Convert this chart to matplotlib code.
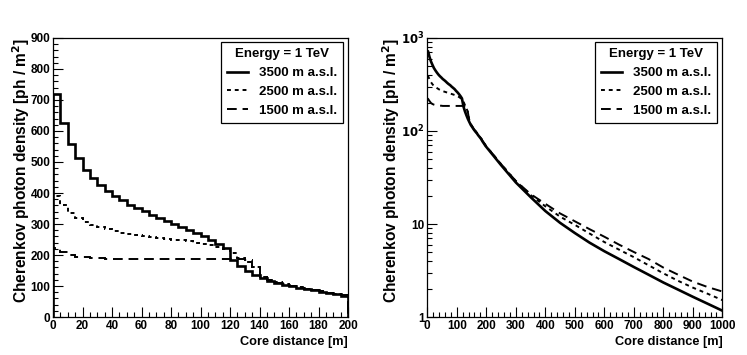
import numpy as np
import matplotlib
matplotlib.use('Agg')
import matplotlib.pyplot as plt
from matplotlib.lines import Line2D
from matplotlib.ticker import MultipleLocator, FixedLocator, FixedFormatter, LogLocator, NullFormatter

plt.rcParams['font.family'] = ['Liberation Sans', 'DejaVu Sans']
plt.rcParams['font.weight'] = 'bold'

# 5 m bins, 0 - 200 m
edges = np.arange(0, 205, 5)
d3500 = [720, 626, 559, 514, 475, 448, 425, 405, 389, 376, 362, 352, 341, 329, 319, 311,
         300, 291, 282, 270, 260, 249, 237, 224, 184, 163, 148, 135, 125, 116, 110, 104,
         99, 95, 90, 86, 82, 77, 73, 69]
d2500 = [390, 360, 335, 318, 305, 297, 290, 283, 277, 272, 268, 265, 262, 259, 256, 253,
         250, 247, 244, 240, 236, 232, 226, 220, 208, 190, 176, 160, 130, 119, 112, 106,
         101, 96, 91, 87, 83, 78, 74, 70]
d1500 = [222, 210, 200, 195, 192, 190, 189, 188, 187, 187, 186, 186, 186, 186, 186, 186,
         186, 186, 186, 186, 186, 186, 186, 186, 186, 186, 185, 160, 128, 118, 111, 105,
         100, 95, 91, 87, 83, 78, 74, 70]

# coarser points beyond 200 m (right panel)
far_dist = [250, 300, 350, 400, 450, 500, 550, 600, 650, 700, 750, 800, 850, 900, 950, 1000]
far3500 = [43, 28, 19.5, 13.8, 10.3, 8.0, 6.3, 5.1, 4.2, 3.45, 2.85, 2.35, 1.97, 1.65, 1.39, 1.17]
far2500 = [44, 29, 20.5, 15.5, 12.0, 9.8, 7.9, 6.4, 5.3, 4.4, 3.6, 2.95, 2.45, 2.07, 1.78, 1.52]
far1500 = [44, 29, 21, 16.5, 13.0, 10.7, 8.8, 7.3, 6.0, 5.0, 4.2, 3.4, 2.85, 2.4, 2.1, 1.88]

labels = ['3500 m a.s.l.', '2500 m a.s.l.', '1500 m a.s.l.']
styles = [dict(ls='-', lw=1.9), dict(ls=(0, (2, 2)), lw=1.4), dict(ls=(0, (5, 3)), lw=1.4)]

fig = plt.figure(figsize=(7.47, 3.55), dpi=100)
ax1 = fig.add_axes([0.071, 0.107, 0.395, 0.786])
ax2 = fig.add_axes([0.572, 0.107, 0.395, 0.786])

centers = 0.5 * (edges[:-1] + edges[1:])
for vals, far, st in zip([d3500, d2500, d1500], [far3500, far2500, far1500], styles):
    ax1.stairs(vals, edges, color='black', **st)
    x = np.concatenate([[0], centers, far_dist])
    y = np.concatenate([[vals[0]], vals, far])
    ax2.plot(x, y, color='black', **st)

ax1.set_xlim(0, 200)
ax1.set_ylim(0, 900)
ax1.xaxis.set_major_locator(MultipleLocator(20))
ax1.xaxis.set_minor_locator(MultipleLocator(5))
ax1.yaxis.set_major_locator(MultipleLocator(100))
ax1.yaxis.set_minor_locator(MultipleLocator(20))

ax2.set_xlim(0, 1000)
ax2.set_yscale('log')
ax2.set_ylim(1, 1000)
ax2.xaxis.set_major_locator(MultipleLocator(100))
ax2.xaxis.set_minor_locator(MultipleLocator(20))
ax2.yaxis.set_major_locator(FixedLocator([1, 10, 100, 1000]))
ax2.yaxis.set_major_formatter(FixedFormatter(['1', '10', r'$\mathbf{10^{2}}$', r'$\mathbf{10^{3}}$']))
ax2.yaxis.set_minor_locator(LogLocator(base=10, subs=np.arange(2, 10)))
ax2.yaxis.set_minor_formatter(NullFormatter())

handles = [Line2D([], [], color='black', label=l, **st) for l, st in zip(labels, styles)]

for ax in (ax1, ax2):
    ax.tick_params(which='both', direction='in', top=False, right=False, labelsize=8.5, pad=2)
    ax.tick_params(which='major', length=7, width=0.8)
    ax.tick_params(which='minor', length=3.5, width=0.8)
    for sp in ax.spines.values():
        sp.set_linewidth(0.9)
    ax.set_xlabel('Core distance [m]', fontsize=9.2, fontweight='bold', loc='right', labelpad=3)
    ax.set_ylabel('Cherenkov photon density [ph / m$^{\\mathbf{2}}$]', fontsize=11.2,
                  fontweight='bold', loc='top', labelpad=-1)
    leg = ax.legend(handles=handles, loc='upper right', bbox_to_anchor=(1.005, 1.008),
                    title='Energy = 1 TeV', title_fontproperties={'weight': 'bold', 'size': 9.5},
                    fancybox=False, edgecolor='black', framealpha=1, fontsize=9.5,
                    handlelength=1.6, borderpad=0.45, labelspacing=0.5, handletextpad=0.8)
    leg.get_frame().set_linewidth(0.9)
    for t in leg.get_texts():
        t.set_fontweight('bold')

fig.savefig('out.png', dpi=100)
